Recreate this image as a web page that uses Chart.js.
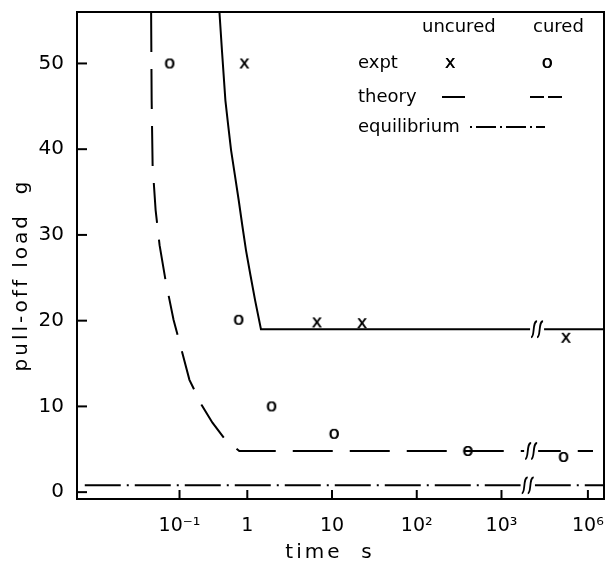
<!DOCTYPE html>
<html>
<head>
<meta charset="utf-8">
<script src="https://cdn.jsdelivr.net/npm/chart.js@4.4.0/dist/chart.umd.min.js"></script>
<style>
  body { margin: 0; background: #fff; }
  #chart { display: block; }
</style>
</head>
<body>
<canvas id="chart" width="609" height="561"></canvas>
<script>
// time axis: labelled times and where each one sits on the (stretched, broken) axis
var tickTimes = [0.1, 1, 10, 100, 1000, 1e6];
var tickLabels = ['10⁻¹', '1', '10', '10²', '10³', '10⁶'];
var tickPos = [-0.8, 0, 1, 2, 3, 4.02];
var loadTicks = [0, 10, 20, 30, 40, 50];

// experiments (time in s, load in g)
var uncuredExptTime = [0.9, 6.6, 22.5, 1.7e5];
var uncuredExptLoad = [50, 19.8, 19.7, 18.0];
var curedExptTime = [0.071, 0.74, 1.92, 10.5, 398, 1.4e5];
var curedExptLoad = [50, 20.1, 10.0, 6.8, 4.8, 4.1];

// theory curves
var uncuredTheoryTime = [0.388, 0.422, 0.475, 0.522, 0.576, 0.655, 0.745, 0.844, 0.957, 1.09, 1.235, 1.449, 1e7];
var uncuredTheoryLoad = [56, 51.6, 45.7, 42.8, 39.9, 37.0, 34.1, 31.1, 28.2, 25.3, 22.4, 19.0, 19.0];
var curedTheoryTime = [0.0381, 0.0388, 0.0401, 0.0444, 0.0508, 0.0622, 0.0816, 0.107, 0.140, 0.211, 0.306, 0.475, 0.762, 1.5e6];
var curedTheoryLoad = [56, 45.7, 38.1, 32.9, 28.8, 24.7, 20.1, 16.6, 13.1, 10.2, 8.1, 6.1, 4.8, 4.8];

// equilibrium
var equilibriumTime = [0.004, 1e7];
var equilibriumLoad = [0.8, 0.8];

var FONT = '"DejaVu Sans", sans-serif';

function timeToPos(t) {
  var lt = Math.log10(t);
  var lg = tickTimes.map(Math.log10);
  var i = 0;
  while (i < lg.length - 2 && lt > lg[i + 1]) i++;
  return tickPos[i] + (lt - lg[i]) * (tickPos[i + 1] - tickPos[i]) / (lg[i + 1] - lg[i]);
}

function points(times, loads) {
  return times.map(function(t, i) { return {x: timeToPos(t), y: loads[i]}; });
}

// the plotted symbols are typed letters in the original
function glyph(ch) {
  var c = document.createElement('canvas');
  c.width = 18; c.height = 18;
  var g = c.getContext('2d');
  g.font = '18px ' + FONT;
  g.textAlign = 'center';
  g.fillStyle = '#000';
  g.fillText(ch, 9, 13.9);
  g.fillText(ch, 9.4, 13.9);
  return c;
}

function squiggle(ctx, x, y) {
  ctx.beginPath();
  ctx.moveTo(x - 3, y + 8);
  ctx.bezierCurveTo(x + 1, y + 8, x - 2, y - 8, x + 3, y - 8);
  ctx.stroke();
}

function noPad(s) {
  s.paddingLeft = 0; s.paddingRight = 0; s.paddingTop = 0; s.paddingBottom = 0;
}

var decor = {
  id: 'decor',
  afterDraw: function(chart) {
    var ctx = chart.ctx;
    var a = chart.chartArea;
    var xs = chart.scales.x, ys = chart.scales.y;
    ctx.save();
    ctx.strokeStyle = '#000';
    ctx.fillStyle = '#000';
    ctx.lineWidth = 2;
    ctx.strokeRect(a.left, a.top, a.right - a.left, a.bottom - a.top);

    // inward tick marks
    tickTimes.forEach(function(t) {
      var px = xs.getPixelForValue(timeToPos(t));
      ctx.beginPath(); ctx.moveTo(px, a.bottom); ctx.lineTo(px, a.bottom - 9); ctx.stroke();
    });
    loadTicks.forEach(function(v) {
      var py = ys.getPixelForValue(v);
      ctx.beginPath(); ctx.moveTo(a.left, py); ctx.lineTo(a.left + 10, py); ctx.stroke();
    });

    // axis breaks between 10^3 and 10^6
    [[3.42, 19.0], [3.35, 4.8], [3.31, 0.8]].forEach(function(b) {
      var px = xs.getPixelForValue(b[0]), py = ys.getPixelForValue(b[1]);
      ctx.fillStyle = '#fff';
      ctx.fillRect(px - 7, py - 3, 14, 6);
      ctx.lineWidth = 1.8;
      squiggle(ctx, px - 3, py);
      squiggle(ctx, px + 3, py);
    });

    // key
    ctx.fillStyle = '#000';
    ctx.font = '18px ' + FONT;
    ctx.textBaseline = 'alphabetic';
    ctx.textAlign = 'left';
    ctx.fillText('uncured', 422, 32);
    ctx.fillText('cured', 533, 32);
    ctx.fillText('expt', 358, 68);
    ctx.fillText('theory', 358, 102);
    ctx.fillText('equilibrium', 358, 132);
    ctx.textAlign = 'center';
    ctx.fillText('x', 450, 68);
    ctx.fillText('x', 450.4, 68);
    ctx.fillText('o', 547, 68);
    ctx.fillText('o', 547.4, 68);
    ctx.lineWidth = 2;
    ctx.beginPath(); ctx.moveTo(442, 97); ctx.lineTo(465, 97); ctx.stroke();
    ctx.setLineDash([14, 4]);
    ctx.beginPath(); ctx.moveTo(530, 97); ctx.lineTo(562, 97); ctx.stroke();
    ctx.setLineDash([2, 4, 20, 4]);
    ctx.beginPath(); ctx.moveTo(470, 127); ctx.lineTo(545, 127); ctx.stroke();
    ctx.setLineDash([]);

    // axis titles
    ctx.font = '20px ' + FONT;
    ctx.letterSpacing = '3px';
    ctx.textAlign = 'center';
    ctx.fillText('time  s', 330, 558);
    ctx.translate(27, 275);
    ctx.rotate(-Math.PI / 2);
    ctx.fillText('pull-off load  g', 0, 0);
    ctx.restore();
  }
};

var ctx = document.getElementById('chart').getContext('2d');
new Chart(ctx, {
  type: 'line',
  data: {
    datasets: [
      { label: 'theory uncured', data: points(uncuredTheoryTime, uncuredTheoryLoad),
        borderColor: '#000', borderWidth: 2, pointRadius: 0, tension: 0, clip: 0 },
      { label: 'theory cured', data: points(curedTheoryTime, curedTheoryLoad),
        borderColor: '#000', borderWidth: 2, borderDash: [40, 17], pointRadius: 0, tension: 0, clip: 0 },
      { label: 'equilibrium', data: points(equilibriumTime, equilibriumLoad),
        borderColor: '#000', borderWidth: 2, borderDash: [36, 6, 2, 6], pointRadius: 0, clip: 0 },
      { label: 'expt uncured', data: points(uncuredExptTime, uncuredExptLoad),
        showLine: false, pointStyle: glyph('x'), clip: false },
      { label: 'expt cured', data: points(curedExptTime, curedExptLoad),
        showLine: false, pointStyle: glyph('o'), clip: false }
    ]
  },
  options: {
    responsive: false,
    devicePixelRatio: 1,
    animation: false,
    layout: { padding: { top: 12, right: 3, left: 0, bottom: 0 } },
    plugins: { legend: { display: false }, tooltip: { enabled: false } },
    scales: {
      x: {
        type: 'linear', min: -2.01, max: 4.21,
        afterFit: function(s) { s.height = 62; noPad(s); },
        afterBuildTicks: function(s) { s.ticks = tickTimes.map(function(t) { return {value: timeToPos(t)}; }); },
        grid: { display: false },
        border: { display: true, color: '#000', width: 2 },
        ticks: { callback: function(v, i) { return tickLabels[i]; }, color: '#000',
          font: { family: FONT, size: 19 }, padding: 8, maxRotation: 0, autoSkip: false }
      },
      y: {
        type: 'linear', min: -0.8, max: 56,
        afterFit: function(s) { s.width = 77; noPad(s); },
        afterBuildTicks: function(s) { s.ticks = loadTicks.map(function(v) { return {value: v}; }); },
        grid: { display: false },
        border: { display: true, color: '#000', width: 2 },
        ticks: { color: '#000', font: { family: FONT, size: 20 }, padding: 5 }
      }
    }
  },
  plugins: [decor]
});
</script>
</body>
</html>
